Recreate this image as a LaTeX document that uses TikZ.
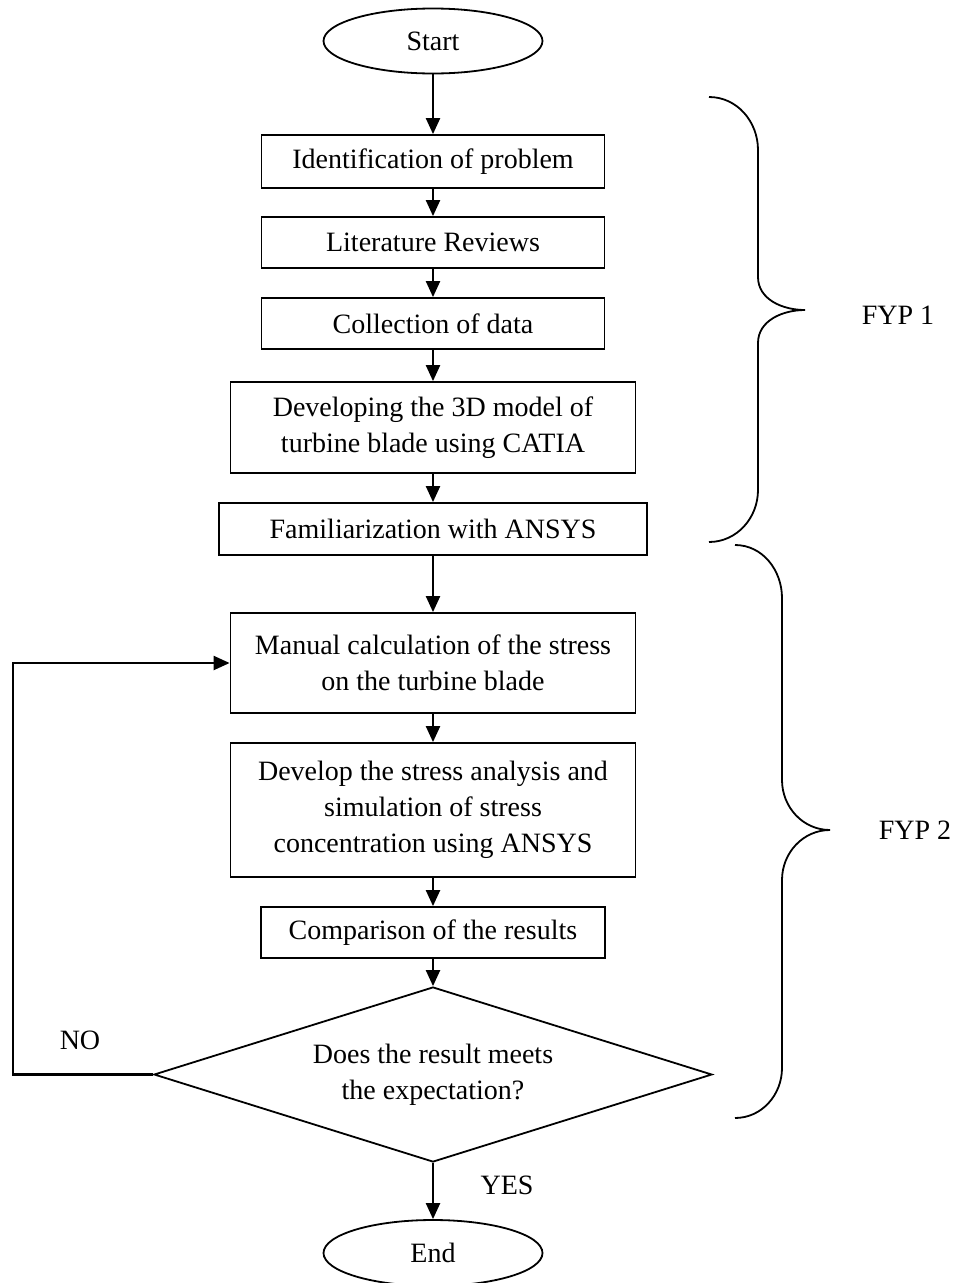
\documentclass[tikz,border=0pt]{standalone}
\usepackage{fontspec}
\setmainfont{Liberation Serif}
\usetikzlibrary{arrows.meta,shapes.geometric}
\begin{document}
\begin{tikzpicture}[x=1pt,y=-1pt,
  every node/.style={font=\fontsize{28}{36}\selectfont},
  stepbox/.style={draw,line width=1.8pt,rectangle,inner sep=0pt,align=center},
  term/.style={draw,line width=1.8pt,ellipse,inner sep=0pt,minimum width=219pt,minimum height=65pt},
  decide/.style={draw,line width=1.8pt,diamond,aspect=3.19,inner sep=0pt,minimum width=558pt,minimum height=175pt,align=center},
  arr/.style={line width=2.2pt,-{Triangle[length=16pt,width=14pt]}},
  plain/.style={line width=2.2pt},
  bracepath/.style={line width=1.8pt}]
\useasboundingbox (0,0) rectangle (959,1283);
\node[term] (start) at (433,41) {Start};
\node[stepbox,minimum width=343pt,minimum height=53pt] (b1) at (433,161.5) {Identification of problem};
\node[stepbox,minimum width=343pt,minimum height=51pt] (b2) at (433,242.5) {Literature Reviews};
\node[stepbox,minimum width=343pt,minimum height=51pt] (b3) at (433,323.5) {Collection of data};
\node[stepbox,minimum width=405pt,minimum height=91pt] (b4) at (433,427.5) {Developing the 3D model of\\turbine blade using CATIA};
\node[stepbox,minimum width=428pt,minimum height=52pt] (b5) at (433,529) {Familiarization with ANSYS};
\node[stepbox,minimum width=405pt,minimum height=100pt] (b6) at (433,663) {Manual calculation of the stress\\on the turbine blade};
\node[stepbox,minimum width=405pt,minimum height=134pt] (b7) at (433,810) {Develop the stress analysis and\\simulation of stress\\concentration using ANSYS};
\node[stepbox,minimum width=344pt,minimum height=51pt] (b8) at (433,932.5) {Comparison of the results};
\node[decide] (dia) at (433,1074.5) {Does the result meets\\the expectation?};
\node[term,minimum height=66pt] (end) at (433,1253) {End};
\draw[arr] (start) -- (b1);
\draw[arr] (b1) -- (b2);
\draw[arr] (b2) -- (b3);
\draw[arr] (b3) -- (b4);
\draw[arr] (b4) -- (b5);
\draw[arr] (b5) -- (b6);
\draw[arr] (b6) -- (b7);
\draw[arr] (b7) -- (b8);
\draw[arr] (b8) -- (dia);
\draw[arr] (dia) -- (end);
\coordinate (lb) at (13,1074.5);
\coordinate (lt) at (13,663);
\draw[arr] (dia.west) -- (lb) -- (lt) -- (b6.west);
\node (no) at (80,1040) {NO};
\node (yes) at (507,1185) {YES};
% braces
\draw[bracepath] (709,97) to[out=0,in=90] (758,150) -- (758,277) to[out=-90,in=180] (805,310)
  to[out=180,in=90] (758,343) -- (758,490) to[out=-90,in=0] (709,542);
\node (fyp1) at (898,315) {FYP 1};
\draw[bracepath] (735,545) to[out=0,in=90] (782,598) -- (782,780) to[out=-90,in=180] (830,830)
  to[out=180,in=90] (782,880) -- (782,1068) to[out=-90,in=0] (735,1118);
\node (fyp2) at (915,830) {FYP 2};
\end{tikzpicture}
\end{document}
